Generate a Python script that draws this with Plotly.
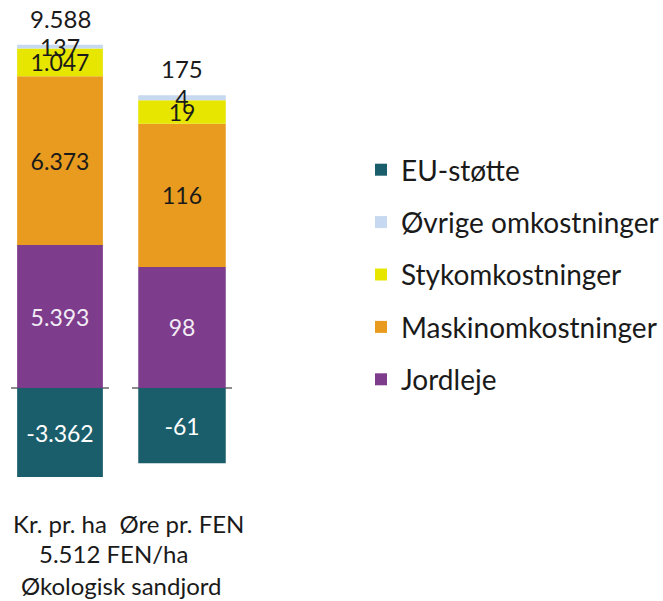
import plotly.graph_objects as go

categories = ["Kr. pr. ha", "Øre pr. FEN"]
series_names = ["Jordleje", "Maskinomkostninger", "Stykomkostninger", "Øvrige omkostninger", "EU-støtte"]
jordleje = [5393, 98]
maskin = [6373, 116]
styk = [1047, 19]
ovrige = [137, 4]
eu_stotte = [-3362, -61]
totals = [9588, 175]
sub_labels = ["5.512 FEN/ha", "Økologisk sandjord"]

series_values = [jordleje, maskin, styk, ovrige, eu_stotte]
colors = ["#7D3C8C", "#E89B1E", "#E6E600", "#C6D9F0", "#1B5E6B"]
text_colors = ["#F2ECF5", "#1a1a1a", "#1a1a1a", "#1a1a1a", "#FFFFFF"]

FONT = "Lato"
W, H = 663, 601
LBL = 23

def fmt(v):
    return f"{v:,}".replace(",", ".")

fig = go.Figure()
axes = [("x", "y"), ("x2", "y2")]
n = len(series_names)
for i, (name, vals, col, tcol) in enumerate(zip(series_names, series_values, colors, text_colors)):
    for j, (xa, ya) in enumerate(axes):
        fig.add_trace(go.Bar(
            x=[categories[j]], y=[vals[j]], name=name,
            xaxis=xa, yaxis=ya,
            marker=dict(color=col, line=dict(width=0)),
            width=0.875,
            text=[fmt(vals[j])], textposition="inside", insidetextanchor="middle",
            textangle=0, insidetextfont=dict(color=tcol, size=LBL, family=FONT),
            legendgroup=name, legendrank=n - i, showlegend=(j == 0), cliponaxis=False,
            hoverinfo="skip",
        ))

# plot geometry (pixels)
top_px, bot_px, zero_px = 10, 500, 388
scale1 = 0.0265
scale2 = 1.235
r1 = [-(bot_px - zero_px) / scale1, (zero_px - top_px) / scale1]
r2 = [-(bot_px - zero_px) / scale2, (zero_px - top_px) / scale2]
ydom = [(H - bot_px) / H, (H - top_px) / H]

common_y = dict(domain=ydom, showgrid=False, showticklabels=False, ticks="", automargin=False,
                zeroline=True, zerolinecolor="#8C8C8C", zerolinewidth=1.5, showline=False)
common_x = dict(showgrid=False, ticks="", showline=False, zeroline=False, automargin=False,
                tickfont=dict(size=24, family=FONT, color="#1a1a1a"),
                ticklabelstandoff=8, range=[-0.5, 0.5], type="category")

for j, (xa, ya) in enumerate(axes):
    fig.add_annotation(x=categories[j], y=sum(v[j] for v in series_values[:4]),
                       xref=xa, yref=ya, text=fmt(totals[j]), showarrow=False,
                       yanchor="bottom", yshift=10,
                       font=dict(size=24, family=FONT, color="#1a1a1a"))

fig.add_annotation(x=113 / W, y=(H - 553) / H, xref="paper", yref="paper",
                   text=sub_labels[0], showarrow=False, xanchor="center", yanchor="middle",
                   font=dict(size=24, family=FONT, color="#1a1a1a"))
fig.add_annotation(x=121 / W, y=(H - 585) / H, xref="paper", yref="paper",
                   text=sub_labels[1], showarrow=False, xanchor="center", yanchor="middle",
                   font=dict(size=24, family=FONT, color="#1a1a1a"))

fig.update_layout(
    template="none",
    width=W, height=H,
    margin=dict(l=0, r=0, t=0, b=0, autoexpand=False),
    paper_bgcolor="white", plot_bgcolor="rgba(0,0,0,0)",
    barmode="relative",
    uniformtext=dict(minsize=LBL, mode="show"),
    font=dict(family=FONT, color="#1a1a1a"),
    xaxis=dict(domain=[11 / W, 109 / W], anchor="y", **common_x),
    xaxis2=dict(domain=[132 / W, 232 / W], anchor="y2", **common_x),
    yaxis=dict(range=r1, anchor="x", **common_y),
    yaxis2=dict(range=r2, anchor="x2", **common_y),
    legend=dict(x=361 / W, y=(H - 145) / H, xanchor="left", yanchor="top",
                xref="container", yref="container",
                traceorder="grouped", tracegroupgap=13,
                font=dict(size=28, family=FONT, color="#1a1a1a"),
                bgcolor="rgba(0,0,0,0)"),
    showlegend=True,
)

fig.write_html("out.html", config={"displayModeBar": False},
               post_script="document.body.style.margin='0';document.body.style.padding='0';")
